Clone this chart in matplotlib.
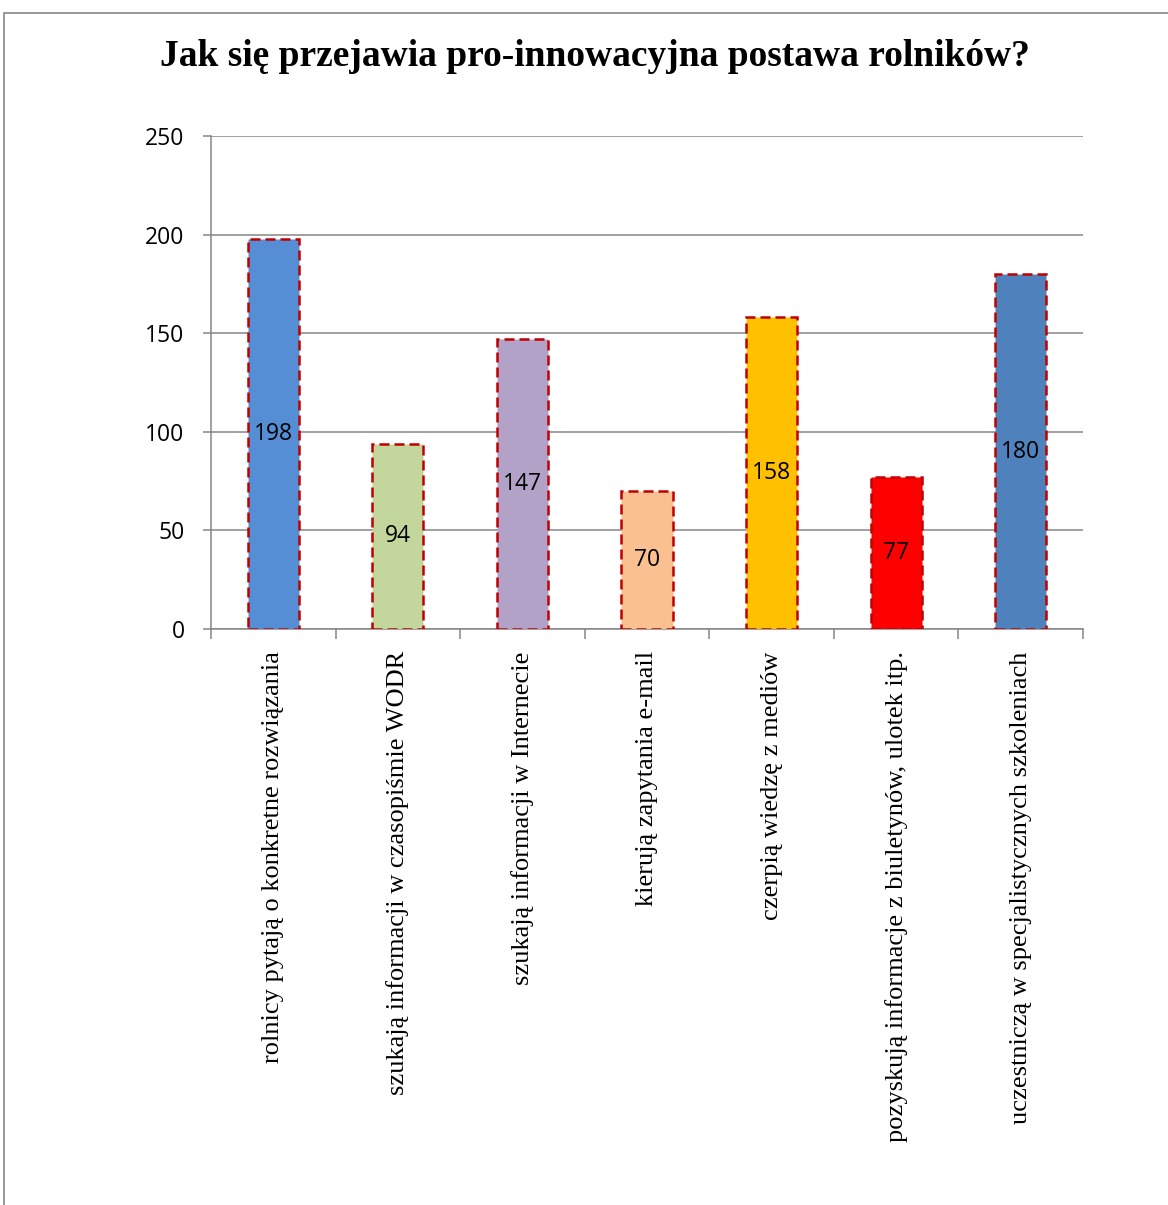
import matplotlib.pyplot as plt
from matplotlib.patches import Rectangle
from matplotlib.transforms import ScaledTranslation

# dane z wykresu
categories = [
    'rolnicy pytają o konkretne rozwiązania',
    'szukają informacji w czasopiśmie WODR',
    'szukają informacji w Internecie',
    'kierują zapytania e-mail',
    'czerpią wiedzę z mediów',
    'pozyskują informacje z biuletynów, ulotek itp.',
    'uczestniczą w specjalistycznych szkoleniach',
]
values = [198, 94, 147, 70, 158, 77, 180]
bar_colors = ['#558ED5', '#C3D69B', '#B3A2C7', '#FAC090', '#FFC000', '#FF0000', '#4F81BD']
y_ticks = [0, 50, 100, 150, 200, 250]
title = 'Jak się przejawia pro-innowacyjna postawa rolników?'

W, H = 1168, 1205
fig = plt.figure(figsize=(W / 100, H / 100), dpi=100)

# ramka obszaru wykresu
fig.patches.append(Rectangle((4 / W, -0.1), 1.2, 1 - 13 / H + 0.1, transform=fig.transFigure,
                             fill=False, edgecolor='#868686', linewidth=1.2))

ax = fig.add_axes([211 / W, 1 - 629 / H, (1083 - 211) / W, (629 - 136) / H])

x = list(range(len(values)))
ax.bar(x, values, width=0.41, color=bar_colors, edgecolor='#C00000',
       linewidth=1.8, linestyle=(0, (4, 2)), zorder=3)

for xi, v in zip(x, values):
    ax.text(xi, v / 2, str(v), ha='center', va='center', fontsize=16.5,
            family='Open Sans', color='black', zorder=4)

ax.set_xlim(-0.5, len(values) - 0.5)
ax.set_ylim(0, 250)
ax.set_yticks(y_ticks)
ax.set_yticklabels([str(t) for t in y_ticks], fontsize=16.5, family='Open Sans')
ax.yaxis.grid(True, color='#868686', linewidth=1.1, zorder=0)
ax.set_axisbelow(True)

# podziałki między kategoriami
ax.set_xticks([i - 0.5 for i in range(len(values) + 1)])
ax.set_xticklabels([])
ax.set_xticks(x, minor=True)
labels = ax.set_xticklabels(categories, minor=True, rotation=90, fontsize=19,
                            family='Liberation Serif', va='top', ha='center')
shift = ScaledTranslation(3 / 100, 0, fig.dpi_scale_trans)
for lab in labels:
    lab.set_transform(lab.get_transform() + shift)
ax.tick_params(axis='x', which='minor', length=0, pad=16)
ax.tick_params(axis='x', which='major', length=7, color='#868686', width=1.1)
ax.tick_params(axis='y', length=6, color='#868686', width=1.1, pad=13)

for s in ['top', 'right']:
    ax.spines[s].set_visible(False)
for s in ['left', 'bottom']:
    ax.spines[s].set_color('#868686')
    ax.spines[s].set_linewidth(1.1)

fig.text(595 / W, 1 - 57 / H, title, ha='center', va='center', fontsize=27,
         fontweight='bold', family='Liberation Serif')

fig.savefig('out.png', dpi=100)
